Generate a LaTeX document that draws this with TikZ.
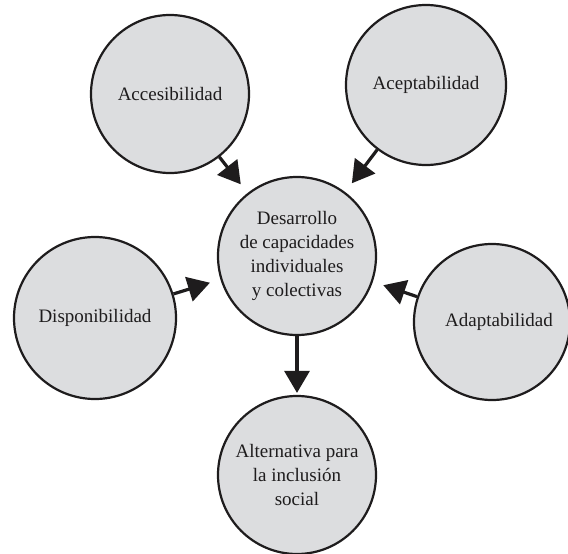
\documentclass[tikz,border=0pt]{standalone}
\usepackage{fontspec}
\setmainfont{Liberation Serif}
\usetikzlibrary{arrows.meta}
\definecolor{circfill}{RGB}{220,221,223}
\definecolor{ink}{RGB}{30,28,29}
\tikzset{
  bubble/.style={circle, draw=ink, line width=2.2pt, fill=circfill, inner sep=0pt,
    align=center, text=ink, font=\fontsize{19}{24}\selectfont},
  link/.style={draw=ink, line width=3.2pt,
    -{Triangle[length=22pt,width=25pt]}, color=ink}
}
\begin{document}
\begin{tikzpicture}[x=1pt,y=-1pt]
\useasboundingbox (0,0) rectangle (568,554);
\clip (0,0) rectangle (568,554);
\node[bubble, minimum size=158pt] (acc) at (170,94) {Accesibilidad};
\node[bubble, minimum size=160pt] (ace) at (426,85) {Aceptabilidad};
\node[bubble, minimum size=158pt] (des) at (297,256) {Desarrollo\\de capacidades\\individuales\\y colectivas};
\node[bubble, minimum size=162pt] (dis) at (95,318) {Disponibilidad};
\node[bubble, minimum size=156pt] (ada) at (492,322) {\hspace*{14pt}Adaptabilidad};
\node[bubble, minimum size=158pt] (alt) at (297,475) {Alternativa para\\la inclusión\\social};
\draw[link, shorten >=11pt] (acc) -- (des);
\draw[link, shorten >=11pt] (ace) -- (des);
\draw[link, shorten >=11pt] (dis) -- (des);
\draw[link, shorten >=11pt] (ada) -- (des);
\draw[link, shorten >=2pt] (des) -- (alt);
\end{tikzpicture}
\end{document}
